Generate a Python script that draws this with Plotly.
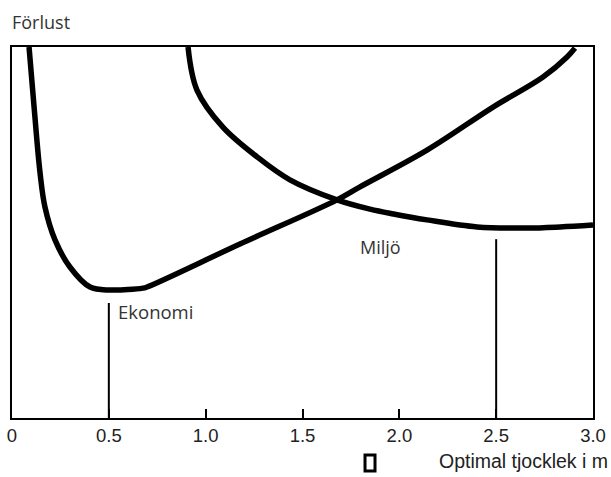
import plotly.graph_objects as go

# Data (x = thickness in m, y = relative loss 0-100)
ekonomi_x = [0.088, 0.114, 0.145, 0.170, 0.222, 0.299, 0.403, 0.506, 0.676, 0.697,
             1.177, 1.678, 1.797, 2.143, 2.484, 2.742, 2.866, 2.907]
ekonomi_y = [100, 83.8, 66.0, 56.9, 48.0, 40.7, 35.3, 34.5, 35.0, 35.3,
             46.9, 58.8, 62.3, 72.2, 83.8, 91.9, 97.3, 99.7]

miljo_x = [0.909, 0.955, 1.089, 1.265, 1.435, 1.678, 1.849, 1.97, 2.143, 2.401, 2.659, 2.830, 3.0]
miljo_y = [100, 88.4, 78.4, 70.4, 64.2, 58.8, 56.3, 55.0, 53.4, 51.5, 51.2, 51.5, 52.0]

optimum_x = [0.5, 2.5]          # Ekonomi, Miljö
optimum_top = [31.0, 48.2]

tick_vals = [0, 0.5, 1.0, 1.5, 2.0, 2.5, 3.0]
tick_text = ["0", "0.5", "1.0", "1.5", "2.0", "2.5", "3.0"]

fig = go.Figure()
fig.add_trace(go.Scatter(x=ekonomi_x, y=ekonomi_y, mode="lines",
                         line=dict(color="black", width=5.5, shape="spline", smoothing=1.0),
                         showlegend=False, hoverinfo="skip"))
fig.add_trace(go.Scatter(x=miljo_x, y=miljo_y, mode="lines",
                         line=dict(color="black", width=5.5, shape="spline", smoothing=1.0),
                         showlegend=False, hoverinfo="skip"))

for xv, yt in zip(optimum_x, optimum_top):
    fig.add_shape(type="line", xref="x", yref="y", x0=xv, x1=xv, y0=-1.2, y1=yt,
                  line=dict(color="black", width=2), layer="above")

fig.add_annotation(x=0.537, y=28.6, xref="x", yref="y", text="Ekonomi", showarrow=False,
                   xanchor="left", yanchor="middle",
                   font=dict(family="Open Sans", size=18.5, color="#333"))
fig.add_annotation(x=1.787, y=46.0, xref="x", yref="y", text="Miljö", showarrow=False,
                   xanchor="left", yanchor="middle",
                   font=dict(family="Open Sans", size=18, color="#333"))
fig.add_annotation(x=-0.004, y=1.068, xref="paper", yref="paper", text="Förlust", showarrow=False,
                   xanchor="left", yanchor="middle",
                   font=dict(family="Open Sans", size=18, color="#333"))
fig.add_annotation(x=1.03, y=-0.116, xref="paper", yref="paper", text="Optimal tjocklek i m",
                   showarrow=False, xanchor="right", yanchor="middle",
                   font=dict(family="Liberation Sans", size=19.5, color="#222"))
# small hollow box before the axis title
fig.add_shape(type="rect", xref="paper", yref="paper", x0=0.6076, x1=0.6248, y0=-0.143, y1=-0.0997,
              line=dict(color="black", width=3), fillcolor="white")

fig.update_layout(
    template="none",
    width=611, height=477,
    margin=dict(l=12, r=18, t=47, b=59, autoexpand=False),
    paper_bgcolor="white", plot_bgcolor="white",
    xaxis=dict(range=[0, 3.0], tickvals=tick_vals, ticktext=tick_text, automargin=False,
               ticks="inside", ticklen=9, tickwidth=2, tickcolor="black",
               showline=True, linecolor="black", linewidth=2, mirror=True,
               showgrid=False, zeroline=False,
               tickfont=dict(family="Liberation Sans", size=18.5, color="#222")),
    yaxis=dict(range=[0, 100], showticklabels=False, ticks="", automargin=False,
               showline=True, linecolor="black", linewidth=2, mirror=True,
               showgrid=False, zeroline=False),
)

fig.write_html("out.html", config={"displayModeBar": False},
               post_script="document.body.style.margin='0';document.body.style.overflow='hidden';")
